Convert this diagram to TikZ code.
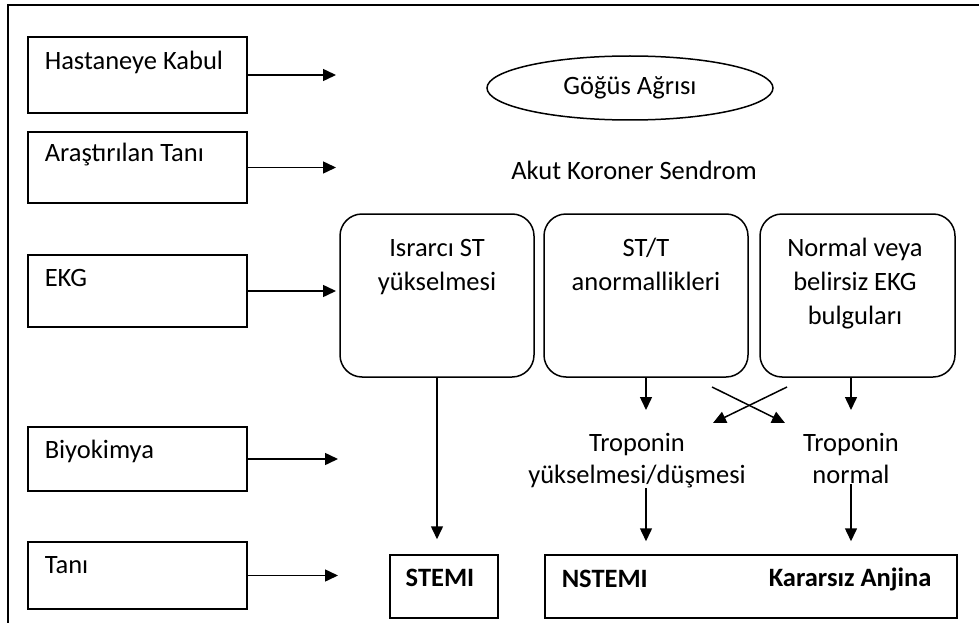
\documentclass[tikz,border=0pt]{standalone}
\usepackage{fontspec}
\setmainfont{Carlito}
\usetikzlibrary{arrows.meta,shapes.geometric}
\begin{document}
\begin{tikzpicture}[x=1pt,y=-1pt,
  line width=1.5pt,
  every node/.style={font=\fontsize{26.5}{34}\selectfont, inner sep=0pt},
  lbox/.style={draw, rectangle, minimum width=219pt},
  rbox/.style={draw, rectangle, rounded corners=22pt, minimum height=163pt},
  pbox/.style={draw, rectangle, minimum height=63pt},
  ltext/.style={anchor=west},
  btext/.style={anchor=north, align=center},
  arr/.style={-{Triangle[length=13pt,width=12pt]}}
]
\useasboundingbox (0,0) rectangle (979,623);
% outer frame (top and left edges)
\draw[line width=2pt] (8,623) -- (8,5) -- (979,5);

% left column boxes
\node[lbox, minimum height=76pt] (hk) at (137.5,75) {};
\node[lbox, minimum height=71pt] (at) at (137.5,167.5) {};
\node[lbox, minimum height=72pt] (ekg) at (137.5,291) {};
\node[lbox, minimum height=64pt] (bio) at (137.5,459) {};
\node[lbox, minimum height=67pt] (tani) at (137.5,575.5) {};
\node[ltext] (hkT) at (44,62) {Hastaneye Kabul};
\node[ltext] (atT) at (44,155) {Araştırılan Tanı};
\node[ltext] (ekgT) at (44,278) {EKG};
\node[ltext] (bioT) at (44,451) {Biyokimya};
\node[ltext] (taniT) at (44,565) {Tanı};

\coordinate (hkE) at (336,75);
\coordinate (atE) at (336,167.5);
\coordinate (ekgE) at (336,291);
\coordinate (bioE) at (338,459);
\coordinate (taniE) at (338,575.5);
\draw[arr] (hk.east) -- (hkE);
\draw[arr] (at.east) -- (atE);
\draw[arr] (ekg.east) -- (ekgE);
\draw[arr] (bio.east) -- (bioE);
\draw[arr] (tani.east) -- (taniE);

% top items
\node[draw, ellipse, minimum width=286pt, minimum height=64pt] (chest) at (630,88) {Göğüs Ağrısı};
\node (acs) at (634,170) {Akut Koroner Sendrom};

% ECG rounded boxes
\node[rbox, minimum width=194pt] (r1) at (437,295.5) {};
\node[rbox, minimum width=204pt] (r2) at (646,295.5) {};
\node[rbox, minimum width=195pt] (r3) at (857.5,295.5) {};
\node[btext] (r1T) at (437,231.5) {\strut Israrcı ST\\yükselmesi};
\node[btext] (r2T) at (646,231.5) {\strut ST/T\\anormallikleri};
\node[btext] (r3T) at (855,231.5) {\strut Normal veya\\belirsiz EKG\\bulguları};

% troponin texts
\node[btext, font=\fontsize{26.5}{32}\selectfont] (tp1) at (637,428) {\strut Troponin\\yükselmesi/düşmesi};
\node[btext, font=\fontsize{26.5}{32}\selectfont] (tp2) at (851,428) {\strut Troponin\\normal};

% diagnosis boxes
\node[pbox, minimum width=108pt] (stemi) at (444,586.5) {};
\node[font=\fontsize{26.5}{34}\selectfont\bfseries] (stemiT) at (440,578) {STEMI};
\node[pbox, minimum width=412pt] (nst) at (751,586.5) {};
\node[anchor=west, font=\fontsize{26.5}{34}\selectfont\bfseries] (nstT) at (561,579) {NSTEMI};
\node[anchor=west, font=\fontsize{26.5}{34}\selectfont\bfseries] (uaT) at (768,579) {Kararsız Anjina};

% connectors
\draw[arr, shorten >=15pt] (r1.south) -- (r1.south |- stemi.north);
\draw[arr, shorten >=18pt] (r2.south) -- (r2.south |- tp1.north);
\draw[arr, shorten >=18pt] (r3.south -| tp2.north) -- (tp2.north);
\coordinate (xa) at (712,387);
\coordinate (xb) at (785,423);
\coordinate (xc) at (787,387);
\coordinate (xd) at (713,423);
\draw[arr] (xa) -- (xb);
\draw[arr] (xc) -- (xd);
\draw[arr, shorten >=13pt] (tp1.south -| r2.south) -- (nst.north -| r2.south);
\draw[arr, shorten >=13pt] (tp2.south) -- (nst.north -| tp2.south);
\end{tikzpicture}
\end{document}
